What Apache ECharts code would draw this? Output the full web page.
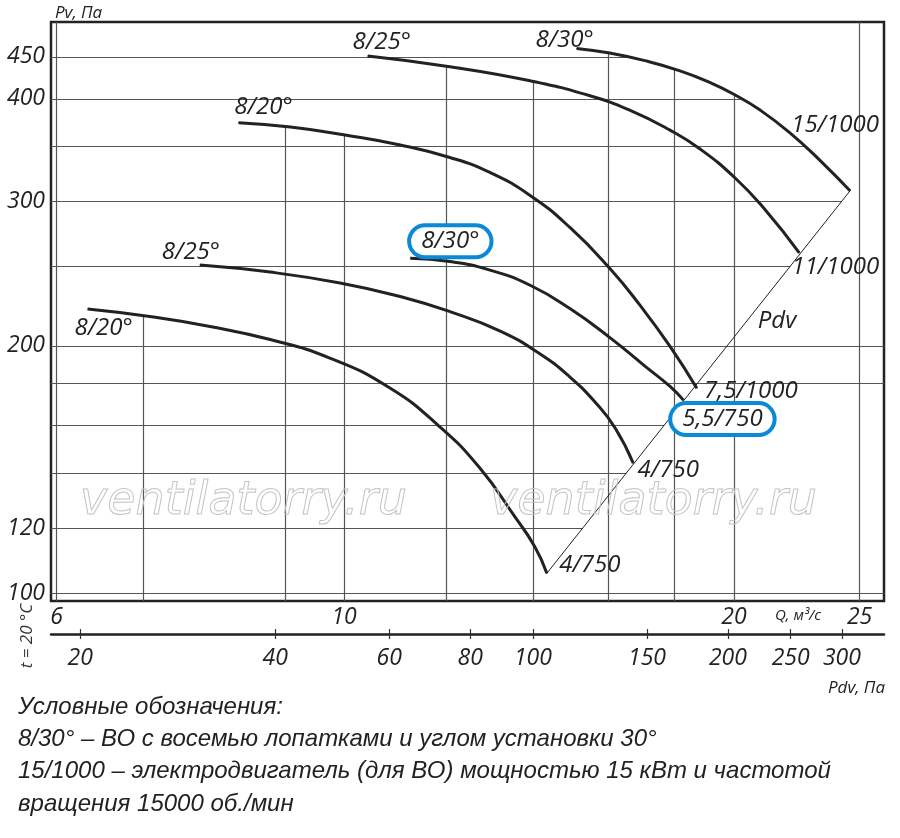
<!DOCTYPE html>
<html><head><meta charset="utf-8">
<script src="https://cdn.jsdelivr.net/npm/echarts@6/dist/echarts.min.js"></script>
<style>html,body{margin:0;padding:0;background:#fff}#chart{width:900px;height:838px}</style>
</head><body><div id="chart"></div>
<script>
// ---- data (Q in m³/s, Pv in Pa) ----
const curveA_Q = [6.34, 7.08, 7.88, 8.77, 9.75, 10.85, 11.86, 12.73, 13.55, 14.04, 14.34];
const curveA_P = [221.8, 217.2, 211.2, 203.6, 193.3, 177.7, 159.3, 142.0, 123.8, 113.8, 105.7];
const curveB_Q = [7.74, 8.77, 9.93, 11.05, 12.07, 13.2, 14.17, 14.94, 15.62, 16.19, 16.72];
const curveB_P = [250.9, 246.0, 238.6, 229.7, 220.2, 208.5, 195.5, 183.3, 170.9, 158.9, 143.9];
const curveC_Q = [11.25, 12.07, 12.96, 13.92, 14.94, 16.04, 17.07, 17.85, 18.28];
const curveC_P = [255.7, 253.4, 247.4, 237.1, 222.1, 204.7, 189.0, 178.5, 171.8];
const curveD_Q = [8.29, 9.09, 10.02, 11.05, 12.07, 12.96, 13.92, 14.94, 16.04, 16.92, 17.85, 18.72];
const curveD_P = [374.0, 369.5, 361.3, 351.4, 339.3, 325.3, 305.0, 278.8, 248.5, 224.2, 199.7, 177.6];
const curveE_Q = [10.43, 12.07, 13.92, 15.48, 16.63, 17.85, 18.83, 20.04, 21.13, 22.46];
const curveE_P = [450.9, 437.6, 420.7, 403.4, 387.2, 366.3, 347.4, 320.3, 293.2, 259.7];
const curveF_Q = [15.12, 16.04, 17.07, 18.17, 19.17, 20.04, 20.95, 22.09, 23.30, 24.58];
const curveF_P = [460.7, 454.7, 445.2, 432.6, 418.6, 404.3, 387.5, 363.6, 336.6, 309.0];
const pdvLine_Q = [14.34, 24.58];
const pdvLine_P = [105.7, 309.0];

const angleLabels = ['8/20°', '8/25°', '8/30°', '8/20°', '8/25°', '8/30°'];
const motorLabels = ['4/750', '4/750', '5,5/750', '7,5/1000', '11/1000', '15/1000'];
const boxedCurve = 2; // the 8/30° – 5,5/750 curve is highlighted

// axes
const qMin = 5.94, qMax = 26.11;
const pMin = 97.8, pMax = 496.1;
const pdvCoef = 0.511;           // Pdv = coef · Q²
const qGrid = [6, 7, 9, 10, 12, 14, 16, 18, 20, 25];
const qLabels = [6, 10, 20, 25];
const pGrid = [100, 120, 140, 160, 180, 200, 250, 300, 350, 400, 450];
const pLabels = [100, 120, 200, 300, 400, 450];
const pGridFullWidth = [100, 180, 200];
const pdvTicks = [20, 40, 60, 80, 100, 150, 200, 250, 300];

const legendLines = [
  'Условные обозначения:',
  '8/30° – ВО с восемью лопатками и углом установки 30°',
  '15/1000 – электродвигатель (для ВО) мощностью 15 кВт и частотой',
  'вращения 15000 об./мин'
];

// ---- build ----
const curveQ = [curveA_Q, curveB_Q, curveC_Q, curveD_Q, curveE_Q, curveF_Q];
const curveP = [curveA_P, curveB_P, curveC_P, curveD_P, curveE_P, curveF_P];
const startOffsets = [[16, 19], [-9, -13], [40, -17], [25, -16], [14, -14], [-12, -8]];
const endOffsets = [[43, -8], [35, 7], [39, 19], [54, 3], [36, 14], [-15, -66]];

const FONT = 'Open Sans';
const INK = '#222';
const BLUE = '#0A8AD6';

const L = Math.log;
function interpLog(qs, ps, q) {
  for (let i = 0; i < qs.length - 1; i++) {
    if (q >= qs[i] && q <= qs[i + 1]) {
      const t = (L(q) - L(qs[i])) / (L(qs[i + 1]) - L(qs[i]));
      return Math.exp(L(ps[i]) + t * (L(ps[i + 1]) - L(ps[i])));
    }
  }
  return null;
}
function crossQ(qs, ps, p) {
  for (let i = 0; i < qs.length - 1; i++) {
    const a = ps[i], b = ps[i + 1];
    if ((p <= a && p >= b) || (p >= a && p <= b)) {
      const t = (L(p) - L(a)) / (L(b) - L(a));
      return Math.exp(L(qs[i]) + t * (L(qs[i + 1]) - L(qs[i])));
    }
  }
  return null;
}
const allQ = curveQ.concat([pdvLine_Q]);
const allP = curveP.concat([pdvLine_P]);
// grid lines are cut at the outer envelope of the curves
const gridSegs = [];
qGrid.forEach(q => {
  let top = null;
  allQ.forEach((qs, i) => {
    const v = interpLog(qs, allP[i], q);
    if (v !== null && (top === null || v > top)) top = v;
  });
  gridSegs.push({ coords: [[q, pMin], [q, top === null ? pMax : top]] });
});
pGrid.forEach(p => {
  let end = null;
  if (pGridFullWidth.indexOf(p) < 0) {
    allQ.forEach((qs, i) => {
      const v = crossQ(qs, allP[i], p);
      if (v !== null && (end === null || v > end)) end = v;
    });
  }
  gridSegs.push({ coords: [[qMin, p], [end === null ? qMax : Math.min(end, qMax), p]] });
});

function lbl(text, off, boxed) {
  const l = {
    show: true, formatter: text, position: 'inside', offset: off,
    fontFamily: FONT, fontStyle: 'italic', fontSize: 24, color: INK
  };
  if (boxed) {
    Object.assign(l, { borderColor: BLUE, borderWidth: 4, borderRadius: 17,
      padding: [3, 10, 1, 10], backgroundColor: '#fff' });
  }
  return l;
}

const series = [{
  type: 'lines', coordinateSystem: 'cartesian2d', xAxisIndex: 0, yAxisIndex: 0,
  silent: true, z: 1, polyline: false,
  lineStyle: { color: '#555', width: 1.2, opacity: 1 },
  data: gridSegs
}];

curveQ.forEach((qs, i) => {
  const ps = curveP[i];
  const data = qs.map((q, j) => {
    const item = { value: [q, ps[j]] };
    if (j === 0) item.label = lbl(angleLabels[i], startOffsets[i], i === boxedCurve);
    if (j === qs.length - 1) item.label = lbl(motorLabels[i], endOffsets[i], i === boxedCurve);
    return item;
  });
  series.push({
    type: 'line', xAxisIndex: 0, yAxisIndex: 0, z: 3,
    smooth: 0.5,
    symbol: 'circle', symbolSize: 1, showSymbol: true,
    itemStyle: { color: INK },
    lineStyle: { color: INK, width: 3 },
    label: { show: false },
    data: data, animation: false
  });
});

series.push({
  type: 'line', xAxisIndex: 0, yAxisIndex: 0, z: 2,
  symbol: 'circle', symbolSize: 1,
  itemStyle: { color: INK },
  lineStyle: { color: INK, width: 1 },
  data: pdvLine_Q.map((q, j) => {
    const item = { value: [q, pdvLine_P[j]] };
    if (j === pdvLine_Q.length - 1) item.label = lbl('Pdv', [-73, 130], false);
    return item;
  }),
  animation: false
});

const labelStyle = { fontFamily: FONT, fontStyle: 'italic', fontSize: 23, color: INK };

const graphics = [];
[80, 490].forEach(x => graphics.push({
  type: 'text', x: x, y: 502, z: 5, silent: true,
  style: { text: 'ventilatorry.ru', font: 'italic 46px "DejaVu Sans"', fill: 'rgba(0,0,0,0)',
    stroke: '#c4c4c4', lineWidth: 1, textVerticalAlign: 'middle' }
}));
legendLines.forEach((t, i) => graphics.push({
  type: 'text', x: 18, y: 707 + i * 32.3,
  style: { text: t, font: 'italic 24px "Liberation Sans"', fill: INK, textVerticalAlign: 'middle' }
}));
graphics.push({ type: 'text', x: 775, y: 616,
  style: { text: 'Q, м³/с', font: 'italic 15px "' + FONT + '"', fill: INK, textVerticalAlign: 'middle' } });
graphics.push({ type: 'text', x: 885, y: 688,
  style: { text: 'Pdv, Па', font: 'italic 17px "' + FONT + '"', fill: INK, textAlign: 'right', textVerticalAlign: 'middle' } });
graphics.push({ type: 'text', x: 27, y: 636, rotation: Math.PI / 2,
  style: { text: 't = 20 °C', font: 'italic 17px "' + FONT + '"', fill: '#333', textAlign: 'center', textVerticalAlign: 'middle' } });

const option = {
  animation: false,
  backgroundColor: '#fff',
  grid: [
    { left: 51, right: 16, top: 22, height: 579, show: true, borderColor: INK, borderWidth: 2.5, backgroundColor: 'rgba(0,0,0,0)' },
    { left: 51, right: 16, top: 629, height: 5, show: false }
  ],
  xAxis: [
    { gridIndex: 0, type: 'log', logBase: 10, min: qMin, max: qMax,
      axisLine: { show: false }, axisTick: { show: false }, splitLine: { show: false },
      axisLabel: Object.assign({ customValues: qLabels, margin: 5, formatter: v => String(Math.round(v)) }, labelStyle) },
    { gridIndex: 1, type: 'log', logBase: 10, min: pdvCoef * qMin * qMin, max: pdvCoef * qMax * qMax, position: 'bottom',
      axisLine: { show: true, lineStyle: { color: INK, width: 2.5 } },
      axisTick: { show: true, inside: false, length: 5, customValues: pdvTicks, lineStyle: { color: '#333', width: 1.2 } },
      axisLabel: Object.assign({ customValues: pdvTicks, margin: 13, formatter: v => String(Math.round(v)) }, labelStyle),
      splitLine: { show: true, lineStyle: { color: '#333', width: 1.2 } } }
  ],
  yAxis: [
    { gridIndex: 0, type: 'log', logBase: 10, min: pMin, max: pMax,
      name: 'Pv, Па', nameLocation: 'end', nameGap: 0,
      nameTextStyle: { fontFamily: FONT, fontStyle: 'italic', fontSize: 17, color: INK, align: 'left', padding: [0, 0, 0, 4] },
      axisLine: { show: false }, axisTick: { show: false }, splitLine: { show: false },
      axisLabel: Object.assign({ customValues: pLabels, margin: 6, formatter: v => String(Math.round(v)) }, labelStyle) },
    { gridIndex: 1, type: 'value', show: false }
  ],
  graphic: graphics,
  series: series
};

const chart = echarts.init(document.getElementById('chart'), null, { renderer: 'canvas' });
chart.setOption(option);
</script>
</body></html>
